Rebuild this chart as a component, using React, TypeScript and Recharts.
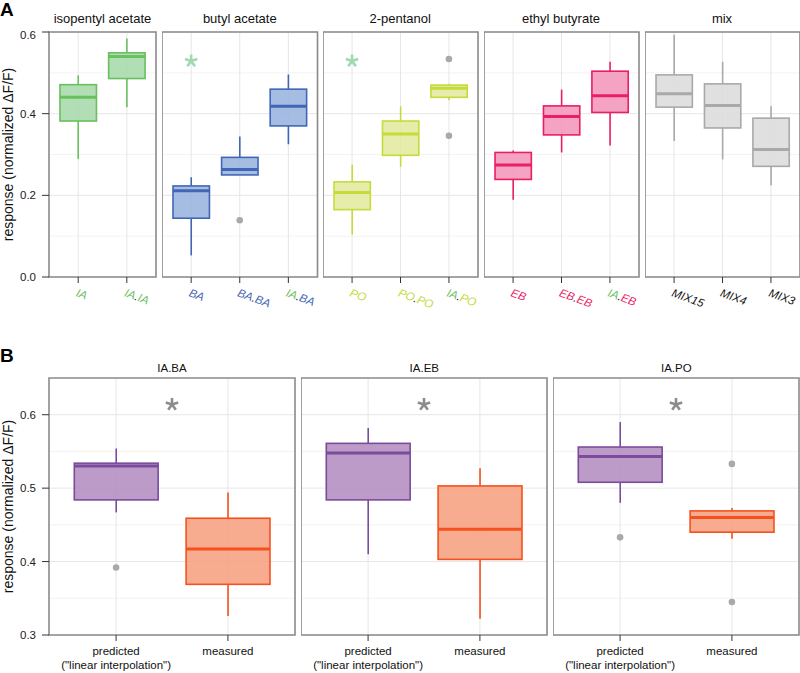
import React from 'react';
import { ComposedChart, Bar, Scatter, XAxis, YAxis, CartesianGrid, ReferenceArea } from 'recharts';

// ---------- DATA ----------
// box stats: [lower whisker, Q1, median, Q3, upper whisker]
const panelATitles = ['isopentyl acetate', 'butyl acetate', '2-pentanol', 'ethyl butyrate', 'mix'];

const iaCats = ['IA', 'IA.IA'];
const iaStats = [
  [0.289, 0.382, 0.44, 0.471, 0.494],
  [0.416, 0.486, 0.54, 0.549, 0.584],
];

const baCats = ['BA', 'BA.BA', 'IA.BA'];
const baStats = [
  [0.053, 0.144, 0.211, 0.223, 0.244],
  [0.25, 0.25, 0.263, 0.293, 0.344],
  [0.325, 0.37, 0.418, 0.46, 0.496],
];
const baOutliers = [{ cat: 'BA.BA', v: 0.139 }];
const baStars = [{ cat: 'BA', v: 0.529 }];

const poCats = ['PO', 'PO.PO', 'IA.PO'];
const poStats = [
  [0.104, 0.165, 0.207, 0.233, 0.275],
  [0.27, 0.298, 0.35, 0.382, 0.418],
  [0.433, 0.44, 0.462, 0.47, 0.473],
];
const poOutliers = [{ cat: 'IA.PO', v: 0.534 }, { cat: 'IA.PO', v: 0.346 }];
const poStars = [{ cat: 'PO', v: 0.529 }];

const ebCats = ['EB', 'EB.EB', 'IA.EB'];
const ebStats = [
  [0.189, 0.239, 0.274, 0.305, 0.31],
  [0.305, 0.348, 0.393, 0.419, 0.459],
  [0.322, 0.403, 0.444, 0.504, 0.527],
];

const mixCats = ['MIX15', 'MIX4', 'MIX3'];
const mixStats = [
  [0.333, 0.416, 0.449, 0.495, 0.593],
  [0.288, 0.365, 0.42, 0.473, 0.527],
  [0.225, 0.271, 0.312, 0.389, 0.418],
];

const panelBTitles = ['IA.BA', 'IA.EB', 'IA.PO'];
const bCats = ['predicted', 'measured'];
const iaBaBStats = [
  [0.467, 0.484, 0.53, 0.534, 0.554],
  [0.326, 0.369, 0.417, 0.459, 0.494],
];
const iaBaBOutliers = [{ cat: 'predicted', v: 0.392 }];
const iaEbBStats = [
  [0.41, 0.484, 0.548, 0.561, 0.582],
  [0.322, 0.403, 0.444, 0.503, 0.527],
];
const iaEbBOutliers: { cat: string; v: number }[] = [];
const iaPoBStats = [
  [0.48, 0.508, 0.543, 0.556, 0.59],
  [0.431, 0.44, 0.46, 0.469, 0.473],
];
const iaPoBOutliers = [{ cat: 'predicted', v: 0.433 }, { cat: 'measured', v: 0.533 }, { cat: 'measured', v: 0.345 }];
const bStarValue = 0.614;

const aYTicks = [0, 0.2, 0.4, 0.6];
const aYMinor = [0.1, 0.3, 0.5];
const bYTicks = [0.3, 0.4, 0.5, 0.6];
const bYMinor = [0.35, 0.45, 0.55];

// ---------- STYLE ----------
const FONT = '"Liberation Sans", Arial, Helvetica, sans-serif';
const tokenColor: Record<string, string> = {
  IA: '#6abf5e', BA: '#4266b5', PO: '#c4d93a', EB: '#ea1e63', MIX: '#111111',
};
const palette: Record<string, { stroke: string; fill: string }> = {
  IA: { stroke: '#6abf5e', fill: '#a6d9aa' },
  BA: { stroke: '#4266b5', fill: '#9ab4df' },
  PO: { stroke: '#c6db3a', fill: '#e2eb9e' },
  EB: { stroke: '#ea1e63', fill: '#f397b9' },
  MIX: { stroke: '#a9a9a9', fill: '#dcdcdc' },
  predicted: { stroke: '#7b4c9d', fill: '#b38dc0' },
  measured: { stroke: '#f4511e', fill: '#f6a07f' },
};

type Stat = number[];

function buildRows(cats: string[], stats: Stat[], colorKeys: string[]) {
  return cats.map((c, i) => ({
    x: i + 1,
    cat: c,
    range: [stats[i][0], stats[i][4]],
    stats: stats[i],
    stroke: palette[colorKeys[i]].stroke,
    fill: palette[colorKeys[i]].fill,
  }));
}

function pointsFor(cats: string[], list: { cat: string; v: number }[]) {
  return list.map((o) => ({ x: cats.indexOf(o.cat) + 1, y: o.v }));
}

const makeBoxShape = (boxWidth: number) => (props: any) => {
  const { x, y, width, height, payload } = props;
  if (!payload || width == null) return null;
  const [wlo, q1, med, q3, whi] = payload.stats;
  const top = Math.min(y, y + height);
  const h = Math.abs(height);
  const k = h / (whi - wlo);
  const py = (v: number) => top + (whi - v) * k;
  const cx = x + width / 2;
  const bx = cx - boxWidth / 2;
  const s = payload.stroke;
  return (
    <g>
      <line x1={cx} x2={cx} y1={py(whi)} y2={py(q3)} stroke={s} strokeWidth={1.6} />
      <line x1={cx} x2={cx} y1={py(q1)} y2={py(wlo)} stroke={s} strokeWidth={1.6} />
      <rect x={bx} y={py(q3)} width={boxWidth} height={Math.max(0.5, py(q1) - py(q3))} fill={payload.fill} fillOpacity={0.88} stroke={s} strokeWidth={1.6} />
      <line x1={bx} x2={bx + boxWidth} y1={py(med)} y2={py(med)} stroke={s} strokeWidth={3} />
    </g>
  );
};

const OutlierDot = (props: any) => {
  const { cx, cy } = props;
  if (cx == null || cy == null) return null;
  return <circle cx={cx} cy={cy} r={3.3} fill="#a9a9a9" />;
};

const makeAsterisk = (color: string) => (props: any) => {
  const { cx, cy } = props;
  if (cx == null || cy == null) return null;
  const L = 6.5;
  const angles = [-90, -18, 54, 126, 198];
  return (
    <g>
      {angles.map((a) => {
        const r = (a * Math.PI) / 180;
        return <line key={a} x1={cx} y1={cy} x2={cx + L * Math.cos(r)} y2={cy + L * Math.sin(r)} stroke={color} strokeWidth={2.6} strokeLinecap="butt" />;
      })}
    </g>
  );
};

const makeRotTick = (labels: string[]) => (props: any) => {
  const { x, y, payload } = props;
  const label = labels[payload.value - 1];
  if (!label) return null;
  const parts = label.split(/(\.)/).filter((p) => p.length > 0);
  return (
    <g transform={`translate(${x - 3},${y + 11}) rotate(20)`}>
      <text x={0} y={0} fontFamily={FONT} fontStyle="italic" fontSize={11.5}>
        {parts.map((p, i) => {
          const key = p.startsWith('MIX') ? 'MIX' : p;
          const fill = p === '.' ? '#111' : tokenColor[key] || '#111';
          return <tspan key={i} fill={fill}>{p}</tspan>;
        })}
      </text>
    </g>
  );
};

const BTick = (props: any) => {
  const { x, y, payload } = props;
  const label = bCats[payload.value - 1];
  if (label === 'predicted') {
    return (
      <text x={x} y={y} textAnchor="middle" fontFamily={FONT} fontSize={11.5} fill="#111">
        <tspan x={x} dy={12}>predicted</tspan>
        <tspan x={x} dy={14}>("linear interpolation")</tspan>
      </text>
    );
  }
  return (
    <text x={x} y={y} textAnchor="middle" fontFamily={FONT} fontSize={11.5} fill="#111">
      <tspan x={x} dy={12}>{label}</tspan>
    </text>
  );
};

interface PanelProps {
  plotLeft: number; plotTop: number; plotW: number; plotH: number; showY: boolean;
  yDomain: [number, number]; yMajor: number[]; yMinor: number[];
  rows: any[]; outliers: any[]; stars: any[]; starColor: string; tick: any; xAxisH: number;
}

function FacetPanel(p: PanelProps) {
  const n = p.rows.length;
  const xTicks = p.rows.map((r) => r.x);
  const yW = p.showY ? 49 : 0;
  const width = yW + p.plotW + 3;
  const height = p.plotH + 3 + p.xAxisH;
  const unit = p.plotW / (n + 0.2);
  const boxWidth = 0.75 * unit;
  const Star = makeAsterisk(p.starColor);
  const BoxShape = makeBoxShape(boxWidth);
  return (
    <div style={{ position: 'absolute', left: p.plotLeft - yW, top: p.plotTop - 3 }}>
      <ComposedChart width={width} height={height} data={p.rows} margin={{ top: 3, right: 3, bottom: 0, left: 0 }}>
        <CartesianGrid horizontalValues={p.yMinor} vertical={false} stroke="#f3f3f3" strokeWidth={1} />
        <CartesianGrid horizontalValues={p.yMajor} verticalValues={xTicks} stroke="#e6e6e6" strokeWidth={1} />
        <XAxis type="number" dataKey="x" domain={[0.4, n + 0.6]} ticks={xTicks} allowDataOverflow interval={0}
          axisLine={false} tickLine={{ stroke: '#333' }} tickSize={6} tick={p.tick} height={p.xAxisH} />
        <YAxis type="number" domain={p.yDomain} ticks={p.yMajor} allowDataOverflow hide={!p.showY} width={yW}
          axisLine={false} tickLine={{ stroke: '#333' }} tickSize={7} tickMargin={6}
          tickFormatter={(v: number) => v.toFixed(1)}
          tick={{ fontSize: 11.5, fill: '#222', fontFamily: FONT }} />
        <ReferenceArea x1={0.4} x2={n + 0.6} y1={p.yDomain[0]} y2={p.yDomain[1]} fill="none" stroke="#8a8a8a" strokeWidth={1.6} ifOverflow="visible" />
        <Bar dataKey="range" shape={BoxShape} isAnimationActive={false} />
        <Scatter data={p.outliers} dataKey="y" shape={OutlierDot} isAnimationActive={false} />
        <Scatter data={p.stars} dataKey="y" shape={Star} isAnimationActive={false} />
      </ComposedChart>
    </div>
  );
}

const A_TOP = 32;
const A_H = 245;
const B_TOP = 378;
const B_H = 257;

export default function App() {
  const aPanels = [
    { left: 49, w: 107, cats: iaCats, stats: iaStats, color: 'IA', out: [], stars: [] },
    { left: 162, w: 155.5, cats: baCats, stats: baStats, color: 'BA', out: baOutliers, stars: baStars },
    { left: 322.7, w: 155, cats: poCats, stats: poStats, color: 'PO', out: poOutliers, stars: poStars },
    { left: 483.5, w: 155, cats: ebCats, stats: ebStats, color: 'EB', out: [], stars: [] },
    { left: 644.5, w: 155, cats: mixCats, stats: mixStats, color: 'MIX', out: [], stars: [] },
  ];
  const bPanels = [
    { left: 49, stats: iaBaBStats, out: iaBaBOutliers },
    { left: 301.3, stats: iaEbBStats, out: iaEbBOutliers },
    { left: 553.3, stats: iaPoBStats, out: iaPoBOutliers },
  ];
  return (
    <div style={{ position: 'absolute', left: 0, top: 0, width: 800, height: 673, background: '#fff', fontFamily: FONT }}>
      <svg width={800} height={673} style={{ position: 'absolute', left: 0, top: 0 }}>
        <text x={0} y={16} fontFamily={FONT} fontWeight="bold" fontSize={19} fill="#000">A</text>
        <text x={0} y={362} fontFamily={FONT} fontWeight="bold" fontSize={19} fill="#000">B</text>
        <text transform={`translate(13,${(A_TOP + A_TOP + A_H) / 2}) rotate(-90)`} textAnchor="middle" fontFamily={FONT} fontSize={14} fill="#111">response (normalized ΔF/F)</text>
        <text transform={`translate(13,${(B_TOP + B_TOP + B_H) / 2}) rotate(-90)`} textAnchor="middle" fontFamily={FONT} fontSize={14} fill="#111">response (normalized ΔF/F)</text>
        {aPanels.map((pp, i) => (
          <text key={i} x={pp.left + pp.w / 2} y={23} textAnchor="middle" fontFamily={FONT} fontSize={13} fill="#111">{panelATitles[i]}</text>
        ))}
        {bPanels.map((pp, i) => (
          <text key={i} x={pp.left + 123} y={372} textAnchor="middle" fontFamily={FONT} fontSize={11.5} fill="#111">{panelBTitles[i]}</text>
        ))}
      </svg>
      {aPanels.map((pp, i) => (
        <FacetPanel key={'a' + i} plotLeft={pp.left} plotTop={A_TOP} plotW={pp.w} plotH={A_H} showY={i === 0}
          yDomain={[0, 0.6]} yMajor={aYTicks} yMinor={aYMinor}
          rows={buildRows(pp.cats, pp.stats, pp.cats.map(() => pp.color))}
          outliers={pointsFor(pp.cats, pp.out)} stars={pointsFor(pp.cats, pp.stars)} starColor="#9fd9b0"
          tick={makeRotTick(pp.cats)} xAxisH={45} />
      ))}
      {bPanels.map((pp, i) => (
        <FacetPanel key={'b' + i} plotLeft={pp.left} plotTop={B_TOP} plotW={246} plotH={B_H} showY={i === 0}
          yDomain={[0.3, 0.65]} yMajor={bYTicks} yMinor={bYMinor}
          rows={buildRows(bCats, pp.stats, bCats)}
          outliers={pointsFor(bCats, pp.out)} stars={[{ x: 1.5, y: bStarValue }]} starColor="#8c8c8c"
          tick={BTick} xAxisH={38} />
      ))}
    </div>
  );
}
